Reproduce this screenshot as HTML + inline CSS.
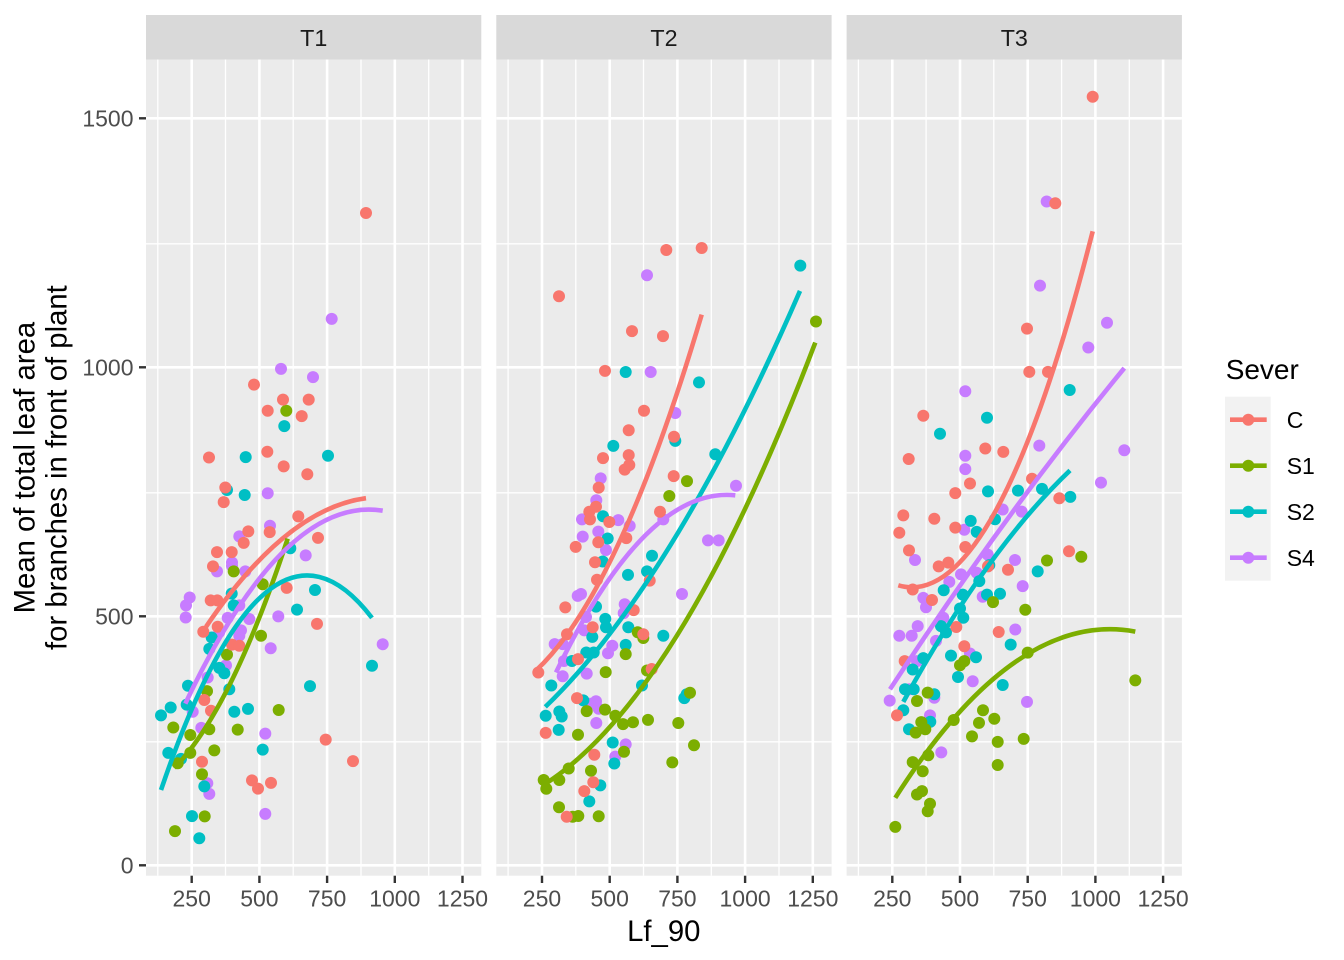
<!DOCTYPE html>
<html><head><meta charset="utf-8"><style>
html,body{margin:0;padding:0;background:#fff;}
svg{display:block;font-family:"Liberation Sans",Arial,sans-serif;}
</style></head><body>
<svg width="1344" height="960" viewBox="0 0 1344 960" xmlns="http://www.w3.org/2000/svg">
<defs>
<g id="panel">
<rect x="146" y="59.5" width="335.3" height="816.2" fill="#EBEBEB"/>
<g stroke="#fff" stroke-width="1.3">
<line x1="146" x2="481.3" y1="741.8" y2="741.8"/><line x1="146" x2="481.3" y1="492.8" y2="492.8"/><line x1="146" x2="481.3" y1="243.8" y2="243.8"/>
<line y1="59.5" y2="875.7" x1="157.8" x2="157.8"/><line y1="59.5" y2="875.7" x1="225.5" x2="225.5"/><line y1="59.5" y2="875.7" x1="293.2" x2="293.2"/><line y1="59.5" y2="875.7" x1="361" x2="361"/><line y1="59.5" y2="875.7" x1="428.7" x2="428.7"/>
</g>
<g stroke="#fff" stroke-width="2.6">
<line x1="146" x2="481.3" y1="865.3" y2="865.3"/><line x1="146" x2="481.3" y1="616.3" y2="616.3"/><line x1="146" x2="481.3" y1="367.3" y2="367.3"/><line x1="146" x2="481.3" y1="118.3" y2="118.3"/>
<line y1="59.5" y2="875.7" x1="191.7" x2="191.7"/><line y1="59.5" y2="875.7" x1="259.4" x2="259.4"/><line y1="59.5" y2="875.7" x1="327.1" x2="327.1"/><line y1="59.5" y2="875.7" x1="394.8" x2="394.8"/><line y1="59.5" y2="875.7" x1="462.5" x2="462.5"/>
</g>
<rect x="146" y="15" width="335.3" height="44.5" fill="#D9D9D9"/>
<g stroke="#333" stroke-width="2.4">
<line y1="875.7" y2="883" x1="191.7" x2="191.7"/><line y1="875.7" y2="883" x1="259.4" x2="259.4"/><line y1="875.7" y2="883" x1="327.1" x2="327.1"/><line y1="875.7" y2="883" x1="394.8" x2="394.8"/><line y1="875.7" y2="883" x1="462.5" x2="462.5"/>
</g>
<g font-size="23" fill="#4D4D4D" text-anchor="middle">
<text x="191.7" y="906.5">250</text><text x="259.4" y="906.5">500</text><text x="327.1" y="906.5">750</text><text x="394.8" y="906.5">1000</text><text x="462.5" y="906.5">1250</text>
</g>
</g>
</defs>
<use href="#panel"/>
<use href="#panel" transform="translate(350.3,0)"/>
<use href="#panel" transform="translate(700.6,0)"/>

<g font-size="23.3" fill="#1A1A1A" text-anchor="middle">
<text x="313.7" y="46">T1</text><text x="664" y="46">T2</text><text x="1014.3" y="46">T3</text>
</g>

<!-- y ticks -->
<g stroke="#333" stroke-width="2.4">
<line x1="139" x2="146" y1="865.3" y2="865.3"/><line x1="139" x2="146" y1="616.3" y2="616.3"/><line x1="139" x2="146" y1="367.3" y2="367.3"/><line x1="139" x2="146" y1="118.3" y2="118.3"/>
</g>
<g font-size="23" fill="#4D4D4D" text-anchor="end">
<text x="133.5" y="873.5">0</text><text x="133.5" y="624.5">500</text><text x="133.5" y="375.5">1000</text><text x="133.5" y="126.5">1500</text>
</g>

<text x="663.8" y="941" font-size="29.3" fill="#000" text-anchor="middle">Lf_90</text>
<g font-size="29.3" fill="#000" text-anchor="middle">
<text transform="translate(34.3,467.6) rotate(-90)">Mean of total leaf area</text>
<text transform="translate(66.5,467.6) rotate(-90)">for branches in front of plant</text>
</g>

<!-- points -->
<g fill="#C77CFF">
<circle cx="331.7" cy="318.9" r="6"/><circle cx="281" cy="368.9" r="6"/><circle cx="313" cy="377.1" r="6"/><circle cx="267.7" cy="493.2" r="6"/><circle cx="270" cy="525.7" r="6"/><circle cx="239.3" cy="536.4" r="6"/><circle cx="232" cy="562.5" r="6"/><circle cx="232" cy="566" r="6"/><circle cx="217" cy="571.4" r="6"/><circle cx="245.3" cy="571.4" r="6"/><circle cx="305.7" cy="555.4" r="6"/><circle cx="189.7" cy="597.5" r="6"/><circle cx="186" cy="605.4" r="6"/><circle cx="185.7" cy="617.5" r="6"/><circle cx="278.3" cy="616.4" r="6"/><circle cx="227.7" cy="617.9" r="6"/><circle cx="249.3" cy="619" r="6"/><circle cx="239.3" cy="605.4" r="6"/><circle cx="219.3" cy="632.1" r="6"/><circle cx="241" cy="630.4" r="6"/><circle cx="239.3" cy="635.7" r="6"/><circle cx="270.7" cy="648.2" r="6"/><circle cx="382.7" cy="644.3" r="6"/><circle cx="226" cy="665.4" r="6"/><circle cx="207.7" cy="677.5" r="6"/><circle cx="192.7" cy="711.8" r="6"/><circle cx="201.3" cy="727.9" r="6"/><circle cx="265.3" cy="733.6" r="6"/><circle cx="207.3" cy="783.2" r="6"/><circle cx="209.3" cy="793.9" r="6"/><circle cx="265.3" cy="813.9" r="6"/>
<circle cx="647" cy="275.2" r="6"/><circle cx="650.7" cy="372" r="6"/><circle cx="675.3" cy="413" r="6"/><circle cx="600.7" cy="478.4" r="6"/><circle cx="596.3" cy="500.2" r="6"/><circle cx="582" cy="519.4" r="6"/><circle cx="618.3" cy="520.1" r="6"/><circle cx="629.7" cy="525.9" r="6"/><circle cx="582.7" cy="536.6" r="6"/><circle cx="598.3" cy="531.6" r="6"/><circle cx="606" cy="550" r="6"/><circle cx="736" cy="485.7" r="6"/><circle cx="708" cy="540.4" r="6"/><circle cx="718.7" cy="540.4" r="6"/><circle cx="663.3" cy="519.4" r="6"/><circle cx="682" cy="594" r="6"/><circle cx="577.7" cy="595.9" r="6"/><circle cx="581" cy="594" r="6"/><circle cx="624.7" cy="604.3" r="6"/><circle cx="623.7" cy="613.1" r="6"/><circle cx="586" cy="617" r="6"/><circle cx="584.3" cy="630.4" r="6"/><circle cx="554.7" cy="644.1" r="6"/><circle cx="562.7" cy="644.1" r="6"/><circle cx="612.3" cy="645.7" r="6"/><circle cx="608" cy="653.3" r="6"/><circle cx="564" cy="661" r="6"/><circle cx="562.7" cy="676.3" r="6"/><circle cx="586.7" cy="673.6" r="6"/><circle cx="590.3" cy="703.8" r="6"/><circle cx="596" cy="701.2" r="6"/><circle cx="598.7" cy="708.8" r="6"/><circle cx="596.3" cy="723" r="6"/><circle cx="625.7" cy="744.4" r="6"/><circle cx="615.3" cy="756.6" r="6"/>
<circle cx="1046.7" cy="201.5" r="6"/><circle cx="1040" cy="285.6" r="6"/><circle cx="1107" cy="322.7" r="6"/><circle cx="1088.3" cy="347.5" r="6"/><circle cx="965.3" cy="391.3" r="6"/><circle cx="1039.3" cy="445.6" r="6"/><circle cx="1124.3" cy="450.2" r="6"/><circle cx="965.3" cy="455.7" r="6"/><circle cx="965.3" cy="469.1" r="6"/><circle cx="1101" cy="482.6" r="6"/><circle cx="1021.7" cy="511.6" r="6"/><circle cx="1002.7" cy="509.5" r="6"/><circle cx="964.3" cy="529.7" r="6"/><circle cx="915" cy="560" r="6"/><circle cx="987.7" cy="554.6" r="6"/><circle cx="1015" cy="560" r="6"/><circle cx="976.7" cy="572.7" r="6"/><circle cx="961" cy="574.4" r="6"/><circle cx="949.3" cy="581.9" r="6"/><circle cx="1022.7" cy="586.1" r="6"/><circle cx="982.7" cy="596.7" r="6"/><circle cx="923.3" cy="597.9" r="6"/><circle cx="926" cy="607.2" r="6"/><circle cx="943.3" cy="617.7" r="6"/><circle cx="917.7" cy="626.1" r="6"/><circle cx="911.7" cy="635.8" r="6"/><circle cx="899.3" cy="635.8" r="6"/><circle cx="1015.3" cy="629.5" r="6"/><circle cx="936" cy="640.9" r="6"/><circle cx="970" cy="653.5" r="6"/><circle cx="917" cy="661.1" r="6"/><circle cx="972.7" cy="681.3" r="6"/><circle cx="909.3" cy="689.3" r="6"/><circle cx="889.7" cy="700.6" r="6"/><circle cx="934.3" cy="697.7" r="6"/><circle cx="1027" cy="701.9" r="6"/><circle cx="930" cy="715.4" r="6"/><circle cx="941.3" cy="752.4" r="6"/>
</g>
<g fill="#00BFC4">
<circle cx="284.3" cy="426.1" r="6"/><circle cx="245.7" cy="457.1" r="6"/><circle cx="328" cy="455.7" r="6"/><circle cx="227" cy="490" r="6"/><circle cx="244.7" cy="495" r="6"/><circle cx="290.3" cy="548.2" r="6"/><circle cx="315" cy="590" r="6"/><circle cx="297" cy="609.6" r="6"/><circle cx="231.7" cy="593.6" r="6"/><circle cx="233.7" cy="605.4" r="6"/><circle cx="211.7" cy="637.5" r="6"/><circle cx="209.3" cy="648.9" r="6"/><circle cx="219.3" cy="667.9" r="6"/><circle cx="224.3" cy="673.2" r="6"/><circle cx="229.3" cy="689.3" r="6"/><circle cx="188" cy="685.7" r="6"/><circle cx="186.7" cy="704.6" r="6"/><circle cx="170.7" cy="707.5" r="6"/><circle cx="161" cy="715.4" r="6"/><circle cx="234.3" cy="711.8" r="6"/><circle cx="248" cy="708.9" r="6"/><circle cx="310" cy="686.1" r="6"/><circle cx="372" cy="665.7" r="6"/><circle cx="262.7" cy="749.6" r="6"/><circle cx="168.3" cy="752.9" r="6"/><circle cx="181" cy="758.9" r="6"/><circle cx="204.3" cy="786.4" r="6"/><circle cx="192" cy="816.1" r="6"/><circle cx="199.3" cy="838.2" r="6"/>
<circle cx="800.3" cy="265.6" r="6"/><circle cx="625.7" cy="372" r="6"/><circle cx="699" cy="382.4" r="6"/><circle cx="613.3" cy="445.9" r="6"/><circle cx="675.3" cy="440.9" r="6"/><circle cx="715.3" cy="454.3" r="6"/><circle cx="603" cy="516.3" r="6"/><circle cx="607.7" cy="538.5" r="6"/><circle cx="652" cy="555.7" r="6"/><circle cx="602.7" cy="561.5" r="6"/><circle cx="628" cy="574.9" r="6"/><circle cx="647" cy="571.4" r="6"/><circle cx="596" cy="606.6" r="6"/><circle cx="605.3" cy="618.9" r="6"/><circle cx="606" cy="627.3" r="6"/><circle cx="628.3" cy="627.3" r="6"/><circle cx="592.3" cy="636.9" r="6"/><circle cx="663.3" cy="635.7" r="6"/><circle cx="625.7" cy="644.9" r="6"/><circle cx="586.3" cy="652.5" r="6"/><circle cx="593.7" cy="652.5" r="6"/><circle cx="572" cy="661" r="6"/><circle cx="551.3" cy="685.5" r="6"/><circle cx="642" cy="685.5" r="6"/><circle cx="684.3" cy="698.1" r="6"/><circle cx="686.7" cy="694.3" r="6"/><circle cx="583.3" cy="700.4" r="6"/><circle cx="545.7" cy="715.7" r="6"/><circle cx="559.3" cy="711.5" r="6"/><circle cx="561.7" cy="716.5" r="6"/><circle cx="558.7" cy="729.9" r="6"/><circle cx="612.7" cy="742.5" r="6"/><circle cx="614.3" cy="763.5" r="6"/><circle cx="600.3" cy="785.4" r="6"/><circle cx="589.3" cy="801.4" r="6"/>
<circle cx="1069.7" cy="390" r="6"/><circle cx="987" cy="417.8" r="6"/><circle cx="940" cy="433.8" r="6"/><circle cx="988" cy="491.4" r="6"/><circle cx="1018" cy="490.6" r="6"/><circle cx="1042" cy="488.9" r="6"/><circle cx="1070.3" cy="496.9" r="6"/><circle cx="970.7" cy="520.9" r="6"/><circle cx="976.7" cy="531.9" r="6"/><circle cx="995" cy="519.2" r="6"/><circle cx="1037.7" cy="571.4" r="6"/><circle cx="989.3" cy="565.1" r="6"/><circle cx="979.3" cy="581.1" r="6"/><circle cx="943.7" cy="590.3" r="6"/><circle cx="962.7" cy="594.6" r="6"/><circle cx="987" cy="594.6" r="6"/><circle cx="1000" cy="593.7" r="6"/><circle cx="960" cy="608.5" r="6"/><circle cx="963.3" cy="617.7" r="6"/><circle cx="941" cy="626.1" r="6"/><circle cx="946" cy="632.4" r="6"/><circle cx="1010.7" cy="644.6" r="6"/><circle cx="951" cy="655.6" r="6"/><circle cx="976" cy="657.3" r="6"/><circle cx="923.3" cy="658.1" r="6"/><circle cx="912.7" cy="669.5" r="6"/><circle cx="958" cy="677" r="6"/><circle cx="1002.7" cy="685" r="6"/><circle cx="905" cy="689.3" r="6"/><circle cx="913.7" cy="689.3" r="6"/><circle cx="934.3" cy="694.3" r="6"/><circle cx="903.3" cy="710.3" r="6"/><circle cx="930.3" cy="721.7" r="6"/><circle cx="909" cy="729.2" r="6"/>
</g>
<g fill="#7CAE00">
<circle cx="286.3" cy="410.7" r="6"/><circle cx="233.7" cy="571.4" r="6"/><circle cx="262.7" cy="584.3" r="6"/><circle cx="261" cy="635.7" r="6"/><circle cx="227" cy="654.6" r="6"/><circle cx="207" cy="691.1" r="6"/><circle cx="278.7" cy="710" r="6"/><circle cx="173.3" cy="727.5" r="6"/><circle cx="190.3" cy="735" r="6"/><circle cx="209.3" cy="729.3" r="6"/><circle cx="237.7" cy="729.6" r="6"/><circle cx="190.3" cy="752.9" r="6"/><circle cx="214.3" cy="750.4" r="6"/><circle cx="177.7" cy="763.2" r="6"/><circle cx="202" cy="774.3" r="6"/><circle cx="204.7" cy="816.4" r="6"/><circle cx="175" cy="831.1" r="6"/>
<circle cx="816" cy="321.5" r="6"/><circle cx="687" cy="481.1" r="6"/><circle cx="669.3" cy="496" r="6"/><circle cx="637.7" cy="632.3" r="6"/><circle cx="643.3" cy="638" r="6"/><circle cx="625.7" cy="654.1" r="6"/><circle cx="605.7" cy="672.1" r="6"/><circle cx="647" cy="670.5" r="6"/><circle cx="690" cy="692.7" r="6"/><circle cx="586.7" cy="711.1" r="6"/><circle cx="605" cy="709.6" r="6"/><circle cx="615.3" cy="715.7" r="6"/><circle cx="623" cy="724.1" r="6"/><circle cx="633" cy="722.2" r="6"/><circle cx="648" cy="719.9" r="6"/><circle cx="678.3" cy="723" r="6"/><circle cx="578" cy="734.8" r="6"/><circle cx="694" cy="745.2" r="6"/><circle cx="624" cy="751.7" r="6"/><circle cx="672.3" cy="762.4" r="6"/><circle cx="568.7" cy="768.5" r="6"/><circle cx="591" cy="770.8" r="6"/><circle cx="543.7" cy="780" r="6"/><circle cx="546.3" cy="788.8" r="6"/><circle cx="559.3" cy="780" r="6"/><circle cx="559" cy="807.2" r="6"/><circle cx="572.7" cy="816.7" r="6"/><circle cx="578.3" cy="816" r="6"/><circle cx="598.7" cy="816.3" r="6"/>
<circle cx="1081.3" cy="556.7" r="6"/><circle cx="1047" cy="560.5" r="6"/><circle cx="993" cy="602.1" r="6"/><circle cx="1025.3" cy="609.7" r="6"/><circle cx="1027.7" cy="652.6" r="6"/><circle cx="1135.3" cy="680.4" r="6"/><circle cx="960" cy="665.3" r="6"/><circle cx="964.3" cy="661.1" r="6"/><circle cx="927.7" cy="692.6" r="6"/><circle cx="917" cy="701" r="6"/><circle cx="921.3" cy="722.1" r="6"/><circle cx="925.3" cy="729.2" r="6"/><circle cx="915.7" cy="732.6" r="6"/><circle cx="953.7" cy="720" r="6"/><circle cx="983" cy="710.3" r="6"/><circle cx="979" cy="722.9" r="6"/><circle cx="994.3" cy="718.7" r="6"/><circle cx="972" cy="736.4" r="6"/><circle cx="997.7" cy="741.9" r="6"/><circle cx="1023.7" cy="738.9" r="6"/><circle cx="912.7" cy="762.1" r="6"/><circle cx="928.3" cy="755.3" r="6"/><circle cx="922.7" cy="771.3" r="6"/><circle cx="997.7" cy="765" r="6"/><circle cx="922" cy="791.1" r="6"/><circle cx="917" cy="794.5" r="6"/><circle cx="930" cy="803.7" r="6"/><circle cx="927.7" cy="811.3" r="6"/><circle cx="895.3" cy="826.9" r="6"/>
</g>
<g fill="#F8766D">
<circle cx="366" cy="213" r="6"/><circle cx="254" cy="384.6" r="6"/><circle cx="283" cy="399.6" r="6"/><circle cx="308.7" cy="399.6" r="6"/><circle cx="267.7" cy="410.7" r="6"/><circle cx="301.7" cy="416.1" r="6"/><circle cx="209" cy="457.5" r="6"/><circle cx="267.3" cy="451.8" r="6"/><circle cx="283.7" cy="466.4" r="6"/><circle cx="307.3" cy="474.3" r="6"/><circle cx="225.3" cy="487.5" r="6"/><circle cx="223.7" cy="502.1" r="6"/><circle cx="298.3" cy="516.4" r="6"/><circle cx="248.3" cy="531.4" r="6"/><circle cx="269.7" cy="532.1" r="6"/><circle cx="243.7" cy="542.9" r="6"/><circle cx="318" cy="537.9" r="6"/><circle cx="217" cy="552.1" r="6"/><circle cx="231.7" cy="552.1" r="6"/><circle cx="213" cy="566.4" r="6"/><circle cx="286.7" cy="587.9" r="6"/><circle cx="210.7" cy="600.4" r="6"/><circle cx="217.3" cy="600.4" r="6"/><circle cx="317" cy="623.9" r="6"/><circle cx="203.3" cy="631.8" r="6"/><circle cx="217.7" cy="626.8" r="6"/><circle cx="232" cy="644.6" r="6"/><circle cx="239.3" cy="645.7" r="6"/><circle cx="204.3" cy="700" r="6"/><circle cx="211" cy="710.7" r="6"/><circle cx="325.7" cy="739.6" r="6"/><circle cx="353" cy="761.1" r="6"/><circle cx="202" cy="761.8" r="6"/><circle cx="252" cy="780.4" r="6"/><circle cx="258" cy="788.6" r="6"/><circle cx="271" cy="782.9" r="6"/>
<circle cx="666.3" cy="250" r="6"/><circle cx="701.7" cy="248" r="6"/><circle cx="559" cy="296.3" r="6"/><circle cx="632" cy="331.1" r="6"/><circle cx="663" cy="336.1" r="6"/><circle cx="605" cy="370.9" r="6"/><circle cx="644" cy="410.7" r="6"/><circle cx="628.7" cy="430.2" r="6"/><circle cx="674" cy="436.7" r="6"/><circle cx="628.7" cy="455.1" r="6"/><circle cx="603" cy="458.1" r="6"/><circle cx="624.7" cy="469.6" r="6"/><circle cx="629.3" cy="465" r="6"/><circle cx="673.7" cy="476.1" r="6"/><circle cx="598.7" cy="487.6" r="6"/><circle cx="596" cy="506.7" r="6"/><circle cx="589.3" cy="511.7" r="6"/><circle cx="590" cy="519.4" r="6"/><circle cx="609.3" cy="522" r="6"/><circle cx="660" cy="511.7" r="6"/><circle cx="598.3" cy="542.3" r="6"/><circle cx="626.3" cy="538.1" r="6"/><circle cx="575.7" cy="546.9" r="6"/><circle cx="595" cy="562.2" r="6"/><circle cx="597" cy="579.8" r="6"/><circle cx="649.7" cy="580.6" r="6"/><circle cx="565.3" cy="607.4" r="6"/><circle cx="633.7" cy="610.1" r="6"/><circle cx="592.7" cy="627.3" r="6"/><circle cx="567" cy="634.2" r="6"/><circle cx="643.3" cy="634.2" r="6"/><circle cx="538.3" cy="672.5" r="6"/><circle cx="651.7" cy="669" r="6"/><circle cx="578" cy="659.1" r="6"/><circle cx="577" cy="698.1" r="6"/><circle cx="545.7" cy="732.9" r="6"/><circle cx="594.3" cy="754.7" r="6"/><circle cx="593.3" cy="782.3" r="6"/><circle cx="584.3" cy="791.1" r="6"/><circle cx="566.7" cy="816.7" r="6"/>
<circle cx="1092.7" cy="96.7" r="6"/><circle cx="1055.3" cy="203.3" r="6"/><circle cx="1027" cy="328.6" r="6"/><circle cx="1029.3" cy="371.9" r="6"/><circle cx="1048" cy="371.9" r="6"/><circle cx="923.3" cy="415.7" r="6"/><circle cx="908.7" cy="459" r="6"/><circle cx="985.3" cy="448.5" r="6"/><circle cx="1003.3" cy="451.9" r="6"/><circle cx="970" cy="483.5" r="6"/><circle cx="955.3" cy="493.1" r="6"/><circle cx="1032" cy="478.8" r="6"/><circle cx="1059.3" cy="498.2" r="6"/><circle cx="903.3" cy="515.4" r="6"/><circle cx="899.3" cy="532.7" r="6"/><circle cx="934.3" cy="518.8" r="6"/><circle cx="955.3" cy="527.6" r="6"/><circle cx="909" cy="550.4" r="6"/><circle cx="965.3" cy="547" r="6"/><circle cx="938.7" cy="566.4" r="6"/><circle cx="948.3" cy="562.6" r="6"/><circle cx="988" cy="566.4" r="6"/><circle cx="1008" cy="569.7" r="6"/><circle cx="1069" cy="551.2" r="6"/><circle cx="912.7" cy="589.5" r="6"/><circle cx="932" cy="600" r="6"/><circle cx="956.3" cy="627" r="6"/><circle cx="998.7" cy="632" r="6"/><circle cx="964.3" cy="646.3" r="6"/><circle cx="904.7" cy="661.1" r="6"/><circle cx="897" cy="715.4" r="6"/>
</g>

<!-- smooth lines -->
<g fill="none" stroke-width="4.6" stroke-linecap="butt">
<path d="M206,626.8 Q286,508.9 366,498.2" stroke="#F8766D"/>
<path d="M174.3,767.9 Q231,710.75 287.7,538.6" stroke="#7CAE00"/>
<path d="M161,790 Q266.5,480 372,617.9" stroke="#00BFC4"/>
<path d="M185.3,703.6 Q284,494.9 382.7,510.7" stroke="#C77CFF"/>

<path d="M536,670.5 Q618.9,593.45 701.7,314.6" stroke="#F8766D"/>
<path d="M546,783.4 Q680.7,696 815.3,342.6" stroke="#7CAE00"/>
<path d="M545.3,706.9 Q672.7,584.1 800,290.9" stroke="#00BFC4"/>
<path d="M556,672.5 Q645.7,486.1 735.3,495.3" stroke="#C77CFF"/>

<path d="M898.3,585.3 Q995.5,614.1 1092.7,231.3" stroke="#F8766D"/>
<path d="M895.3,797.8 Q1015.3,609.3 1135.3,631.6" stroke="#7CAE00"/>
<path d="M903.3,701.9 Q986.7,549.65 1070,470.4" stroke="#00BFC4"/>
<path d="M890,689.3 Q1007.2,510.1 1124.3,368.1" stroke="#C77CFF"/>
</g>

<!-- legend -->
<text x="1225.7" y="379" font-size="28" fill="#000">Sever</text>
<rect x="1225" y="396.7" width="45.7" height="184" fill="#F2F2F2"/>
<g stroke-width="4.6">
<line x1="1230" x2="1266.7" y1="419.7" y2="419.7" stroke="#F8766D"/>
<line x1="1230" x2="1266.7" y1="465.7" y2="465.7" stroke="#7CAE00"/>
<line x1="1230" x2="1266.7" y1="511.7" y2="511.7" stroke="#00BFC4"/>
<line x1="1230" x2="1266.7" y1="557.7" y2="557.7" stroke="#C77CFF"/>
</g>
<circle cx="1248.3" cy="419.7" r="6" fill="#F8766D"/>
<circle cx="1248.3" cy="465.7" r="6" fill="#7CAE00"/>
<circle cx="1248.3" cy="511.7" r="6" fill="#00BFC4"/>
<circle cx="1248.3" cy="557.7" r="6" fill="#C77CFF"/>
<g font-size="23" fill="#000">
<text x="1286.7" y="428">C</text><text x="1286.7" y="474">S1</text><text x="1286.7" y="520">S2</text><text x="1286.7" y="566">S4</text>
</g>
</svg>
</body></html>
